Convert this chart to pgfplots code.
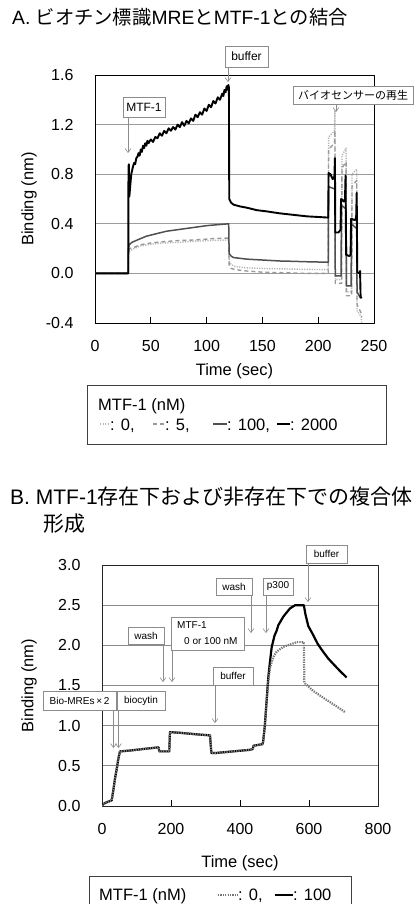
\documentclass[border=0pt]{standalone}
\usepackage{pgfplots}
\pgfplotsset{compat=1.18}
\usepackage{fontspec}
\setmainfont{Liberation Sans}
\newfontfamily\cjk{Noto Sans CJK JP}
\usetikzlibrary{arrows.meta}
\definecolor{gridA}{HTML}{9C9C9C}
\definecolor{gridB}{HTML}{8A8A8A}
\definecolor{cDot}{HTML}{B4B4B4}
\definecolor{cDash}{HTML}{999999}
\definecolor{cDark}{HTML}{505050}
\definecolor{cDotB}{HTML}{777777}
\definecolor{annc}{HTML}{8C8C8C}
\tikzset{
  annbox/.style={draw=annc, fill=white, line width=0.6pt},
  arr/.style={draw=annc, line width=0.6pt, -{Straight Barb[length=4pt,width=6pt]}},
}
\newcommand{\fs}[1]{\fontsize{#1}{#1}\selectfont}
\begin{document}
\begin{tikzpicture}
\path[use as bounding box] (0,0) rectangle (418pt,-904pt);

% ---------------- Title A
\node[anchor=west, inner sep=0pt, font=\fs{19.3}] at (12pt,-17.5pt)
  {A. {\cjk ビオチン標識}MRE{\cjk と}MTF-1{\cjk との結合}};

% ---------------- Axis A
\begin{axis}[
  at={(95pt,-323pt)}, anchor=south west, scale only axis,
  width=279pt, height=248pt,
  xmin=0, xmax=250, ymin=-0.4, ymax=1.6,
  xtick={0,50,100,150,200,250}, xticklabels={0,50,100,150,200,250},
  ytick={-0.4,0,0.4,0.8,1.2,1.6}, yticklabels={-0.4,0.0,0.4,0.8,1.2,1.6},
  ymajorgrids, grid style={gridA, line width=0.8pt},
  axis line style={black, line width=0.8pt},
  tick align=inside, major tick length=6pt,
  xtick style={black, line width=0.8pt}, ytick style={draw=none},
  xtick pos=bottom, ytick pos=left,
  tick label style={font=\fs{16}},
  yticklabel style={xshift=-18pt},
  xticklabel style={yshift=-14pt},
  xlabel={Time (sec)}, ylabel={Binding (nm)},
  label style={font=\fs{16.5}},
  xlabel style={at={(axis description cs:0.5,0)}, anchor=north, inner sep=0pt, yshift=-40pt},
  ylabel style={at={(axis description cs:-0.2366,0.5)}, anchor=center, rotate=0},
  line join=round,
]
% 0 nM dotted
\addplot[cDot, line width=1.4pt, dash pattern=on 1.2pt off 1.3pt] coordinates {
(0,0) (29.8,0) (30,0.15) (31,0.18) (35,0.20) (40,0.22) (50,0.235) (60,0.245) (75,0.25) (90,0.26) (105,0.265) (119.8,0.27)
(120.2,0.10) (122,0.07) (126,0.055) (135,0.045) (150,0.04) (175,0.035) (209,0.03)
(209.3,1.10) (214.5,1.15) (215,1.31) (215.3,-0.05) (221,-0.05) (221.3,0.95) (225,1.01) (225.3,-0.15) (230,-0.15)
(230.3,0.80) (234.5,0.84) (234.8,-0.30) (238.5,-0.35) (239,-0.40)};
% 5 nM dashed
\addplot[cDash, line width=1.4pt, dash pattern=on 4pt off 3pt] coordinates {
(0,0) (29.8,0) (30,0.18) (31,0.20) (35,0.21) (40,0.23) (50,0.245) (60,0.255) (75,0.265) (90,0.27) (105,0.28) (119.8,0.285)
(120.2,0.06) (122,0.04) (126,0.03) (135,0.02) (150,0.01) (170,0.005) (190,0.0) (209,0.0)
(209.3,1.00) (214.5,1.05) (215,1.15) (215.3,-0.08) (221,-0.08) (221.3,0.85) (225,0.90) (225.3,-0.18) (230,-0.18)
(230.3,0.70) (234.5,0.75) (234.8,-0.25) (238.5,-0.32) (239,-0.35)};
% 100 nM dark grey
\addplot[cDark, line width=1.5pt] coordinates {
(0,0) (29.8,0) (30,0.20) (30.5,0.23) (33,0.25) (38,0.27) (46,0.30) (55,0.32) (64,0.34) (76,0.355) (88,0.37) (100,0.385) (110,0.393) (119.8,0.40)
(120.2,0.16) (122,0.14) (124,0.128) (136,0.115) (150,0.108) (166,0.10) (175,0.098) (190,0.094) (209,0.09)
(209.3,0.70) (215,0.68) (215.3,-0.02) (220.5,-0.02) (220.8,0.55) (225,0.52) (225.3,-0.10) (229.5,-0.10)
(229.8,0.40) (234.5,0.36) (234.8,-0.15) (238,-0.20)};
% 2000 nM black
\addplot[black, line width=1.9pt] coordinates {
(0,0) (29.8,0) (30,0.86) (30.3,0.88) (30.8,0.62) (31.5,0.70) (32.5,0.80) (34,0.86) (35,0.89) (36,0.88) (37,0.93) (38,0.94)
(39,0.97) (40,0.95) (41,1.00) (42,0.98) (43,1.03) (44,1.01) (45,1.05) (46,1.03) (47,1.07) (48,1.05) (50,1.08) (52,1.06)
(54,1.10) (56,1.09) (58,1.13) (60,1.11) (62,1.15) (64,1.13) (66,1.17) (68,1.15) (70,1.18) (72,1.16) (74,1.20) (76,1.18)
(78,1.22) (80,1.19) (82,1.23) (84,1.21) (86,1.25) (88,1.23) (90,1.28) (92,1.26) (94,1.30) (96,1.28) (98,1.33) (100,1.31)
(102,1.36) (104,1.34) (106,1.39) (108,1.37) (110,1.42) (112,1.40) (114,1.45) (115,1.43) (116,1.48) (117,1.46) (118,1.51)
(119,1.48) (119.5,1.52) (120,1.50) (120.3,0.60) (122,0.57) (124,0.555) (130,0.54) (136,0.53) (145,0.51) (154,0.50)
(165,0.485) (175,0.475) (190,0.46) (200,0.455) (209,0.45)
(209.3,0.81) (211,0.80) (213,0.76) (214.5,0.78) (215,0.93) (215.3,0.33) (218,0.33) (220,0.35) (220.5,0.60) (223,0.58)
(224,0.60) (224.5,0.79) (225,0.15) (228,0.14) (229,0.15) (229.5,0.44) (233,0.43) (234,0.45) (234.5,0.65) (235,0.01)
(237,0.0) (237.5,0.02) (238,-0.19) (239,-0.20)};
\end{axis}

% annotations A
\draw[arr] (228pt,-67pt) -- (228pt,-82pt);
\node[annbox, minimum width=43pt, minimum height=21pt, inner sep=0pt, font=\fs{12}] at (246.5pt,-56.5pt) {buffer};
\draw[arr] (128pt,-117pt) -- (128pt,-153pt);
\node[annbox, minimum width=42pt, minimum height=20pt, inner sep=0pt, font=\fs{12}] at (144pt,-107pt) {MTF-1};
\draw[arr] (336pt,-104pt) -- (336pt,-112pt);
\node[annbox, minimum width=120pt, minimum height=18pt, inner sep=0pt, font=\cjk\fs{11}] at (353pt,-95pt) {バイオセンサーの再生};

% legend A
\draw[black!75, line width=0.8pt] (87pt,-385pt) rectangle (386pt,-444pt);
\node[anchor=base west, inner sep=0pt, font=\fs{16.5}] at (98pt,-410pt) {MTF-1 (nM)};
\draw[cDot, line width=1.4pt, dash pattern=on 1.2pt off 1.3pt] (100pt,-424pt) -- (110pt,-424pt);
\node[anchor=base west, inner sep=0pt, font=\fs{16.5}] at (110pt,-430pt) {: 0,};
\draw[cDash, line width=1.4pt, dash pattern=on 4pt off 3pt] (153pt,-424pt) -- (165pt,-424pt);
\node[anchor=base west, inner sep=0pt, font=\fs{16.5}] at (165pt,-430pt) {: 5,};
\draw[cDark, line width=1.5pt] (213pt,-424pt) -- (227pt,-424pt);
\node[anchor=base west, inner sep=0pt, font=\fs{16.5}] at (227pt,-430pt) {: 100,};
\draw[black, line width=1.5pt] (277pt,-424pt) -- (290pt,-424pt);
\node[anchor=base west, inner sep=0pt, font=\fs{16.5}] at (290pt,-430pt) {: 2000};

% ---------------- Title B
\node[anchor=west, inner sep=0pt, font=\fs{21}] at (10pt,-497pt)
  {B. MTF-1{\cjk 存在下および非存在下での複合体}};
\node[anchor=west, inner sep=0pt, font=\cjk\fs{21}] at (43pt,-524pt) {形成};

% ---------------- Axis B
\begin{axis}[
  at={(102pt,-806pt)}, anchor=south west, scale only axis,
  width=276pt, height=241pt,
  xmin=0, xmax=800, ymin=0, ymax=3,
  xtick={0,200,400,600,800}, xticklabels={0,200,400,600,800},
  ytick={0,0.5,1,1.5,2,2.5,3}, yticklabels={0.0,0.5,1.0,1.5,2.0,2.5,3.0},
  ymajorgrids, grid style={gridB, line width=0.8pt},
  axis line style={black!85, line width=0.8pt},
  tick align=inside, major tick length=6pt,
  xtick style={black, line width=0.8pt}, ytick style={draw=none},
  xtick pos=bottom, ytick pos=left,
  tick label style={font=\fs{16}},
  yticklabel style={xshift=-18pt},
  xticklabel style={yshift=-14pt},
  xlabel={Time (sec)}, ylabel={Binding (nm)},
  label style={font=\fs{16.5}},
  xlabel style={at={(axis description cs:0.5,0)}, anchor=north, inner sep=0pt, yshift=-49pt},
  ylabel style={at={(axis description cs:-0.2645,0.5)}, anchor=center},
  line join=round,
]
% 100 nM solid black
\addplot[black, line width=2.2pt] coordinates {
(0,0.0) (3,0.02) (10,0.04) (28,0.07) (33,0.20) (38,0.35) (43,0.47) (47,0.58) (52,0.68) (80,0.69) (120,0.71) (164,0.73)
(166,0.68) (180,0.68) (195,0.68) (197,0.92) (230,0.91) (280,0.89) (313,0.88) (317,0.66) (330,0.66) (380,0.68) (430,0.70)
(437,0.71) (439,0.75) (465,0.77) (467,0.80) (472,1.00) (477,1.30) (482,1.60) (487,1.80) (492,1.98) (500,2.12) (506,2.18)
(511,2.25) (526,2.36) (545,2.46) (560,2.50) (585,2.50) (590,2.38) (598,2.24) (612,2.13) (625,2.02) (641,1.92) (655,1.84)
(670,1.77) (690,1.68) (709,1.60)};
% 0 nM dotted grey
\addplot[cDotB, line width=2.2pt, dash pattern=on 1.3pt off 1.1pt] coordinates {
(0,0.0) (3,0.02) (10,0.04) (28,0.07) (33,0.20) (38,0.35) (43,0.47) (47,0.58) (52,0.68) (80,0.69) (120,0.71) (164,0.73)
(166,0.68) (180,0.68) (195,0.68) (197,0.92) (230,0.91) (280,0.89) (313,0.88) (317,0.66) (330,0.66) (380,0.68) (430,0.70)
(437,0.71) (439,0.75) (465,0.77) (467,0.80) (472,1.00) (477,1.30) (482,1.55) (487,1.72) (496,1.85) (506,1.92) (525,1.98)
(545,2.01) (564,2.04) (585,2.04) (586.5,1.55) (590,1.52) (600,1.48) (613,1.43) (630,1.38) (651,1.32) (680,1.24) (704,1.17)};
\end{axis}

% annotations B
\draw[arr] (308pt,-563pt) -- (308pt,-602pt);
\node[annbox, minimum width=41pt, minimum height=18pt, inner sep=0pt, font=\fs{10}] at (326.5pt,-554pt) {buffer};
\draw[arr] (251pt,-595pt) -- (251pt,-633pt);
\node[annbox, minimum width=36pt, minimum height=17pt, inner sep=0pt, font=\fs{10}] at (234pt,-586.5pt) {wash};
\draw[arr] (266pt,-595pt) -- (266pt,-633pt);
\node[annbox, minimum width=30pt, minimum height=17pt, inner sep=0pt, font=\fs{10}] at (278pt,-586.5pt) {p300};
\draw[arr] (172pt,-650pt) -- (172pt,-682pt);
\draw[annbox] (171pt,-617pt) rectangle (244pt,-650pt);
\node[anchor=west, inner sep=0pt, font=\fs{10}] at (177pt,-625pt) {MTF-1};
\node[anchor=west, inner sep=0pt, font=\fs{10}] at (184pt,-641.5pt) {0 or 100 nM};
\draw[arr] (163pt,-644pt) -- (163pt,-682pt);
\node[annbox, minimum width=36pt, minimum height=17pt, inner sep=0pt, font=\fs{10}] at (146pt,-635.5pt) {wash};
\draw[arr] (215pt,-685pt) -- (215pt,-723pt);
\node[annbox, minimum width=40pt, minimum height=18pt, inner sep=0pt, font=\fs{10}] at (233pt,-676pt) {buffer};
\draw[arr] (113.5pt,-710pt) -- (113.5pt,-748pt);
\draw[arr] (118.5pt,-710pt) -- (118.5pt,-748pt);
\node[annbox, minimum width=73pt, minimum height=19pt, inner sep=0pt, font=\fs{10}] at (79.5pt,-700.5pt) {Bio-MREs\,×\,2};
\node[annbox, minimum width=48pt, minimum height=19pt, inner sep=0pt, font=\fs{10}] at (141pt,-700.5pt) {biocytin};

% legend B
\draw[black!75, line width=0.8pt] (89pt,-876pt) rectangle (351pt,-930pt);
\node[anchor=base west, inner sep=0pt, font=\fs{16.5}] at (99pt,-900pt) {MTF-1 (nM)};
\draw[cDotB, line width=1.4pt, dash pattern=on 1.2pt off 1.2pt] (218pt,-895pt) -- (238pt,-895pt);
\node[anchor=base west, inner sep=0pt, font=\fs{16.5}] at (238pt,-900pt) {: 0,};
\draw[black, line width=1.6pt] (275pt,-895pt) -- (293pt,-895pt);
\node[anchor=base west, inner sep=0pt, font=\fs{16.5}] at (293pt,-900pt) {: 100};
\end{tikzpicture}
\end{document}
